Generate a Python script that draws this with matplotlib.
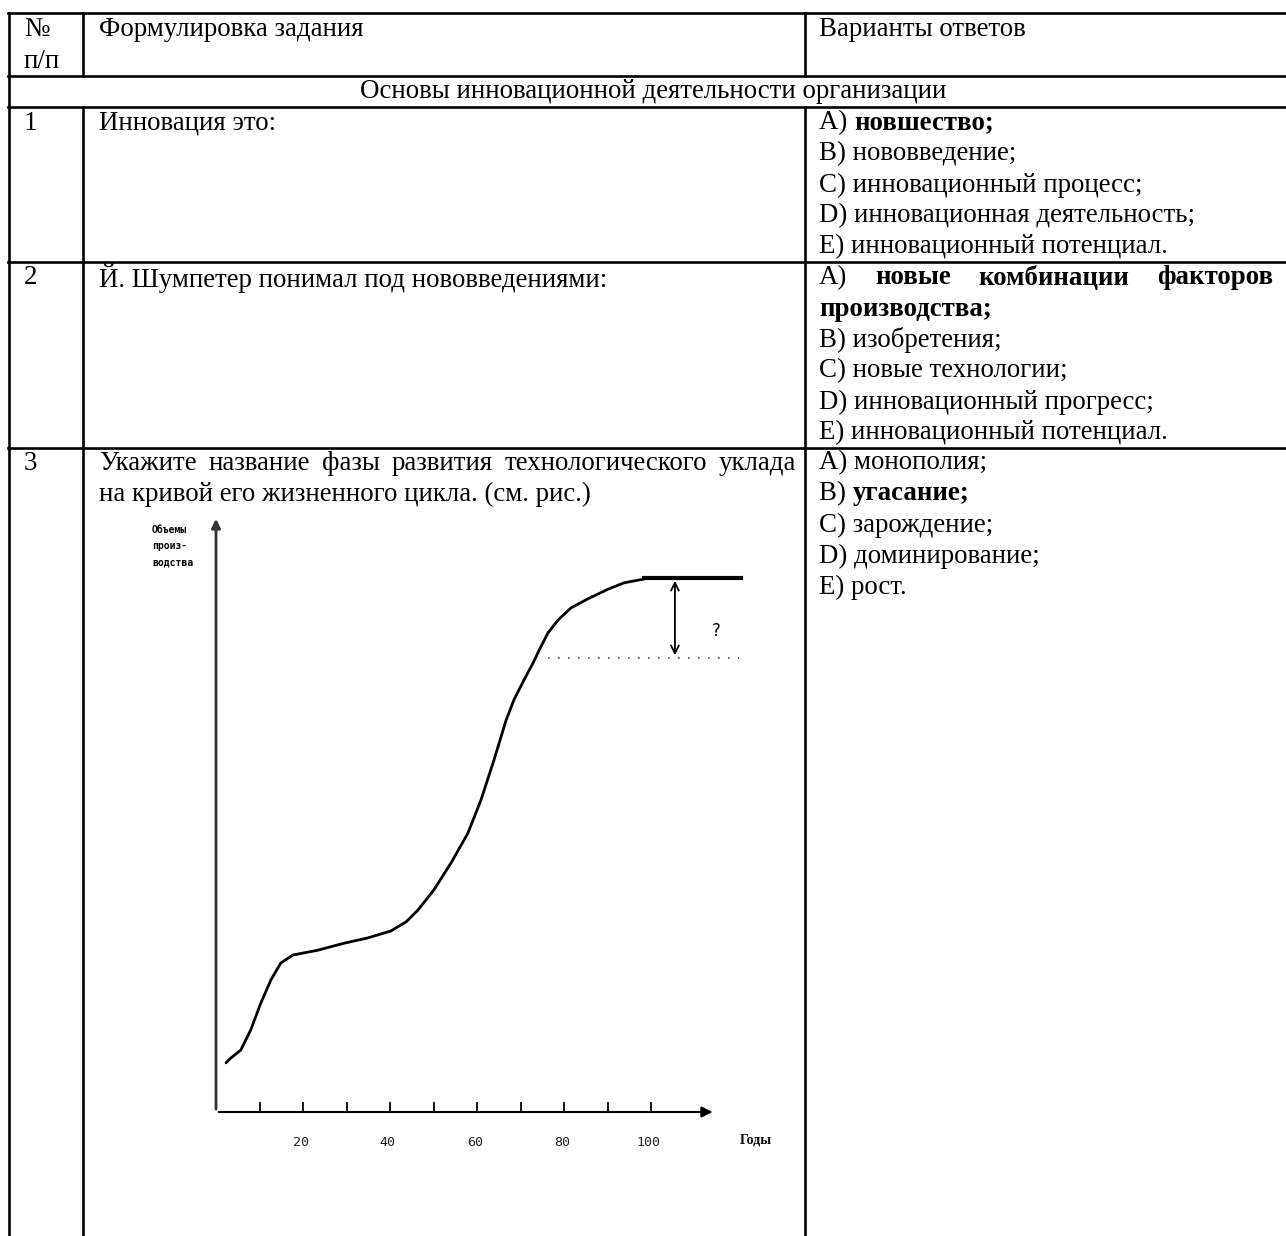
import numpy as np
import matplotlib.pyplot as plt

plt.rcParams['font.family'] = ['Liberation Serif', 'DejaVu Serif']

# --- table content ---
header_no = ["№", "п/п"]
header_task = "Формулировка задания"
header_answers = "Варианты ответов"
section_title = "Основы инновационной деятельности организации"
row_numbers = ["1", "2", "3"]
q1 = "Инновация это:"
q2 = "Й. Шумпетер понимал под нововведениями:"
q3_line1 = "Укажите название фазы развития технологического уклада"
q3_line2 = "на кривой его жизненного цикла. (см. рис.)"
# (normal part, bold part)
answers_1 = [("A) ", "новшество;"), ("B) нововведение;", ""), ("C) инновационный процесс;", ""),
             ("D) инновационная деятельность;", ""), ("E) инновационный потенциал.", "")]
answers_2_first = ["A)", "новые", "комбинации", "факторов"]
answers_2 = [("", "производства;"), ("B) изобретения;", ""), ("C) новые технологии;", ""),
             ("D) инновационный прогресс;", ""), ("E) инновационный потенциал.", "")]
answers_3 = [("A) монополия;", ""), ("B) ", "угасание;"), ("C) зарождение;", ""),
             ("D) доминирование;", ""), ("E) рост.", "")]

# --- life-cycle curve (years, production volume) ---
years = [2.3, 3.4, 5.7, 8.0, 10.3, 12.6, 14.9, 17.7, 23.4, 29.4, 34.9, 40.2, 43.7, 46.4,
         50.1, 54.0, 57.9, 60.9, 63.9, 66.7, 68.5, 70.8, 72.9, 74.3, 76.3, 78.6, 81.6,
         85.5, 90.1, 93.8, 98.4]
volume = [9.2, 10.1, 11.6, 15.4, 20.4, 24.7, 27.9, 29.4, 30.3, 31.6, 32.6, 33.9, 35.6, 37.8,
          41.6, 46.6, 52.2, 58.4, 65.9, 73.4, 77.2, 80.9, 84.1, 86.5, 89.7, 92.1, 94.4,
          96.1, 97.9, 99.1, 99.8]
plateau_level = 100
plateau_end = 120.7
decline_level = 85
decline_start = 76.3
gap_year = 105.5
tick_years = [10, 20, 30, 40, 50, 60, 70, 80, 90, 100]
label_years = [20, 40, 60, 80, 100]

W, H = 1286, 1236
fig = plt.figure(figsize=(W / 100, H / 100), dpi=100)
ax = fig.add_axes([0, 0, 1, 1])
ax.set_xlim(0, W)
ax.set_ylim(H, 0)
ax.axis('off')
r = fig.canvas.get_renderer()

FS = 19.4
LH = 31
lw = 1.9

# table grid
x_left, x_c1, x_c2, x_right = 9, 83, 805, 1286
for y in [13, 76, 107, 262, 448]:
    ax.plot([x_left - 1, x_right], [y, y], color='black', lw=lw)
ax.plot([x_left, x_left], [13, H], color='black', lw=lw)
for x in [x_c1, x_c2]:
    ax.plot([x, x], [13, 76], color='black', lw=lw)
    ax.plot([x, x], [107, H], color='black', lw=lw)


def txt(x, y, s, bold=False, **kw):
    return ax.text(x, y, s, fontsize=FS, fontweight='bold' if bold else 'normal',
                   va='center', ha='left', **kw)


def width(t):
    return t.get_window_extent(renderer=r).width


def seg(x, y, normal, boldpart):
    if normal:
        t = txt(x, y, normal)
        x += width(t)
    if boldpart:
        txt(x, y, boldpart, bold=True)


def justify(x0, x1, y, words, bolds):
    ts = [txt(0, y, w, bold=b) for w, b in zip(words, bolds)]
    ws = [width(t) for t in ts]
    gap = (x1 - x0 - sum(ws)) / (len(words) - 1)
    x = x0
    for t, w in zip(ts, ws):
        t.set_x(x)
        x += w + gap


# header
txt(24, 30, header_no[0])
txt(24, 61, header_no[1])
txt(99, 30, header_task)
txt(819, 30, header_answers)
txt(360, 92, section_title)

# rows
tops = [123, 278, 463]
for n, y in zip(row_numbers, tops):
    txt(24, y, n)
txt(99, tops[0], q1)
txt(99, tops[1], q2)
justify(99, 796, tops[2], q3_line1.split(), [False] * len(q3_line1.split()))
txt(99, tops[2] + LH, q3_line2)

for i, (p, b) in enumerate(answers_1):
    seg(819, tops[0] + i * LH, p, b)
justify(819, 1273, tops[1], answers_2_first, [False, True, True, True])
for i, (p, b) in enumerate(answers_2):
    seg(819, tops[1] + (i + 1) * LH, p, b)
for i, (p, b) in enumerate(answers_3):
    seg(819, tops[2] + i * LH, p, b)

# --- embedded chart ---
px_per_year = 4.35
px_per_unit = 5.34
x0_px, y0_px = 216, 1112
cw, ch = 580, 640
cax = fig.add_axes([x0_px / W, (H - y0_px) / H, cw / W, ch / H])
cax.set_xlim(0, cw / px_per_year)
cax.set_ylim(0, ch / px_per_unit)
cax.axis('off')

cax.annotate('', xy=(0, 111.6), xytext=(0, 0),
             arrowprops=dict(arrowstyle='-|>', color='#333333', lw=2, mutation_scale=13))
cax.annotate('', xy=(114.8, 0), xytext=(0, 0),
             arrowprops=dict(arrowstyle='-|>', color='black', lw=1.5, mutation_scale=16))
for ty in tick_years:
    cax.plot([ty, ty], [-1.6, 1.6], color='black', lw=1.3)
for ly in label_years:
    cax.text(ly - 0.5, -5.7, str(ly), fontsize=9.5, family='DejaVu Sans Mono',
             ha='center', va='center', color='#222222')

cax.plot(years, volume, color='black', lw=2.0, solid_capstyle='round')
cax.plot([years[-1], plateau_end], [plateau_level, plateau_level], color='black', lw=3)
cax.plot([decline_start, plateau_end - 0.5], [decline_level, decline_level], color='#555555',
         lw=1.2, linestyle=(0, (1, 5)))
cax.annotate('', xy=(gap_year, plateau_level), xytext=(gap_year, decline_level),
             arrowprops=dict(arrowstyle='<->', color='black', lw=1.3, mutation_scale=14))
cax.text(gap_year + 9.5, decline_level + 5, '?', fontsize=12, family='DejaVu Sans',
         ha='center', va='center')

# axis titles
for s, y in zip(["Объемы", "произ-", "водства"], [530, 546, 562]):
    ax.text(152, y, s, fontsize=7, family='DejaVu Sans Mono', fontweight='bold',
            ha='left', va='center')
ax.text(740, 1140, "Годы", fontsize=10, fontweight='bold', ha='left', va='center')

fig.savefig('out.png', dpi=100)
